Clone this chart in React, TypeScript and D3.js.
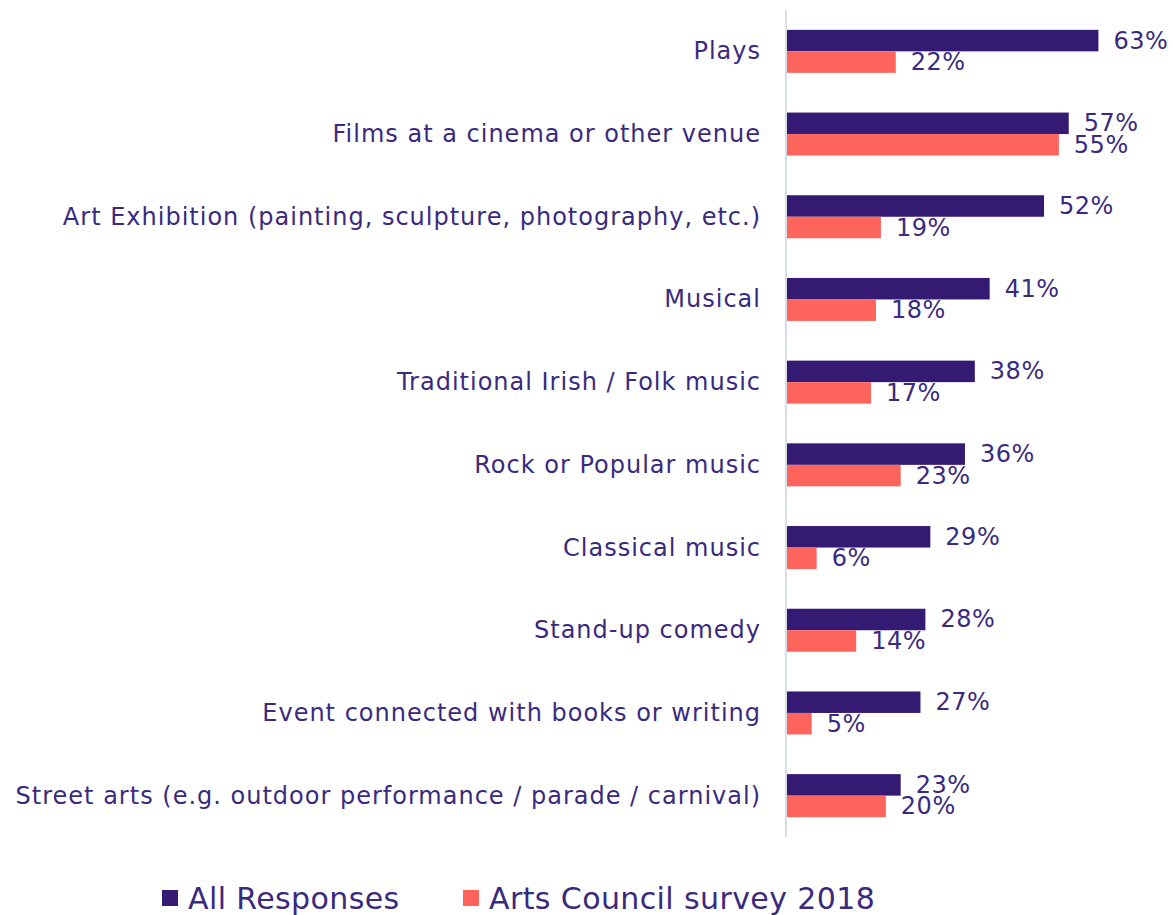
import React from "react";
import * as d3 from "d3";

const categories: string[] = [
  "Plays",
  "Films at a cinema or other venue",
  "Art Exhibition (painting, sculpture, photography, etc.)",
  "Musical",
  "Traditional Irish / Folk music",
  "Rock or Popular music",
  "Classical music",
  "Stand-up comedy",
  "Event connected with books or writing",
  "Street arts (e.g. outdoor performance / parade / carnival)",
];

const allResponses: number[] = [63, 57, 52, 41, 38, 36, 29, 28, 27, 23];
const artsCouncil2018: number[] = [22, 55, 19, 18, 17, 23, 6, 14, 5, 20];

const seriesNames: string[] = ["All Responses", "Arts Council survey 2018"];
const seriesColors: string[] = ["#341a72", "#ff645c"];

const width = 1173;
const height = 915;
const textColor = "#3a2a7e";
const font = "'DejaVu Sans', sans-serif";

const App = () => {
  const y = d3
    .scaleBand<string>()
    .domain(categories)
    .range([10, 837])
    .paddingInner(0.48)
    .paddingOuter(0.24);

  const x = d3.scaleLinear().domain([0, 70]).range([787, 1133]);

  const sub = d3
    .scaleBand<string>()
    .domain(seriesNames)
    .range([0, y.bandwidth()]);

  const series = [allResponses, artsCouncil2018];

  return (
    <div style={{ position: "absolute", left: 0, top: 0 }}>
      <svg width={width} height={height} style={{ display: "block" }}>
        <rect width={width} height={height} fill="#ffffff" />
        {categories.map((c, i) => (
          <g key={c}>
            <text
              x={761}
              y={(y(c) as number) + y.bandwidth() / 2}
              textAnchor="end"
              dominantBaseline="central"
              fontFamily={font}
              fontSize={24}
              letterSpacing={1}
              fill={textColor}
            >
              {c}
            </text>
            {series.map((vals, s) => {
              const by = (y(c) as number) + (sub(seriesNames[s]) as number);
              return (
                <g key={s}>
                  <rect
                    x={x(0)}
                    y={by}
                    width={x(vals[i]) - x(0)}
                    height={sub.bandwidth()}
                    fill={seriesColors[s]}
                  />
                  <text
                    x={x(vals[i]) + 15}
                    y={by + sub.bandwidth() / 2}
                    dominantBaseline="central"
                    fontFamily={font}
                    fontSize={24}
                    letterSpacing={0.5}
                    fill={textColor}
                  >
                    {vals[i]}%
                  </text>
                </g>
              );
            })}
          </g>
        ))}
        <line x1={786} x2={786} y1={10} y2={837} stroke="#d9dde6" strokeWidth={2} />
        {seriesNames.map((n, s) => {
          const lx = s === 0 ? 162 : 463;
          return (
            <g key={n}>
              <rect x={lx} y={890} width={16} height={16} fill={seriesColors[s]} />
              <text
                x={lx + 26}
                y={909}
                fontFamily={font}
                fontSize={30}
                letterSpacing={0.4}
                fill={textColor}
              >
                {n}
              </text>
            </g>
          );
        })}
      </svg>
    </div>
  );
};

export default App;
